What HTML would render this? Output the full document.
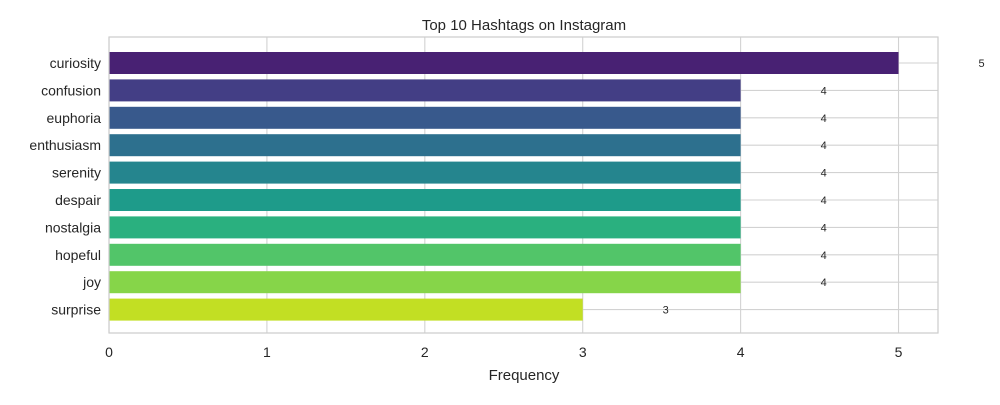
<!DOCTYPE html>
<html><head><meta charset="utf-8"><style>
body{margin:0;background:#fff;font-family:"Liberation Sans","DejaVu Sans",sans-serif;}
</style></head><body>
<svg id="chart" width="1000" height="400" xmlns="http://www.w3.org/2000/svg">
<rect x="0" y="0" width="1000" height="400" fill="#fff"/>
<text x="524" y="30" font-size="15" text-anchor="middle" fill="#262626">Top 10 Hashtags on Instagram</text>
<g id="grid"></g><g id="bars"></g><g id="labels"></g>
<rect x="109" y="37" width="829" height="296" fill="none" stroke="#ccc" stroke-width="1.2"/>
<text x="524" y="380" font-size="15" text-anchor="middle" fill="#262626">Frequency</text>
</svg>
<script>
const categories=["curiosity","confusion","euphoria","enthusiasm","serenity","despair","nostalgia","hopeful","joy","surprise"];
const values=[5,4,4,4,4,4,4,4,4,3];
const colors=["#482173","#433e85","#38598c","#2d708e","#25858e","#1e9b8a","#2ab07f","#52c569","#86d549","#c2df23"];
const xTicks=[0,1,2,3,4,5];
const NS="http://www.w3.org/2000/svg";
const x0=109,x1=938,xMax=5.25,yTop=37,yBot=333;
const xs=v=>x0+(x1-x0)*v/xMax;
const step=27.4, yc=i=>63+i*step;
function mk(t,a,p){const e=document.createElementNS(NS,t);for(const k in a)e.setAttribute(k,a[k]);p.appendChild(e);return e;}
const grid=document.getElementById('grid'),bars=document.getElementById('bars'),labels=document.getElementById('labels');
xTicks.forEach(t=>{
 const l=mk('line',{x1:xs(t),x2:xs(t),y1:yTop,y2:yBot,stroke:'#d2d2d2','stroke-width':1.1},grid);
 
 
 const tx=mk('text',{x:xs(t),y:357,'font-size':14,'text-anchor':'middle',fill:'#262626'},labels);
 tx.textContent=t;
 
 
});
categories.forEach((c,i)=>{
 const y=yc(i);
 const g=mk('line',{x1:x0,x2:x1,y1:y,y2:y,stroke:'#d2d2d2','stroke-width':1.1},grid);
 
 
 const r=mk('rect',{x:x0,y:y-11,width:xs(values[i])-x0,height:22,fill:colors[i]},bars);
 
 
 const t=mk('text',{x:101,y:y+5,'font-size':14,'text-anchor':'end',fill:'#262626'},labels);
 t.textContent=c;
 
 
 const v=mk('text',{x:xs(values[i]+0.5)+1,y:y+4,'font-size':11,'text-anchor':'start',fill:'#262626'},labels);
 v.textContent=values[i];
 
 
});
</script>
</body></html>
